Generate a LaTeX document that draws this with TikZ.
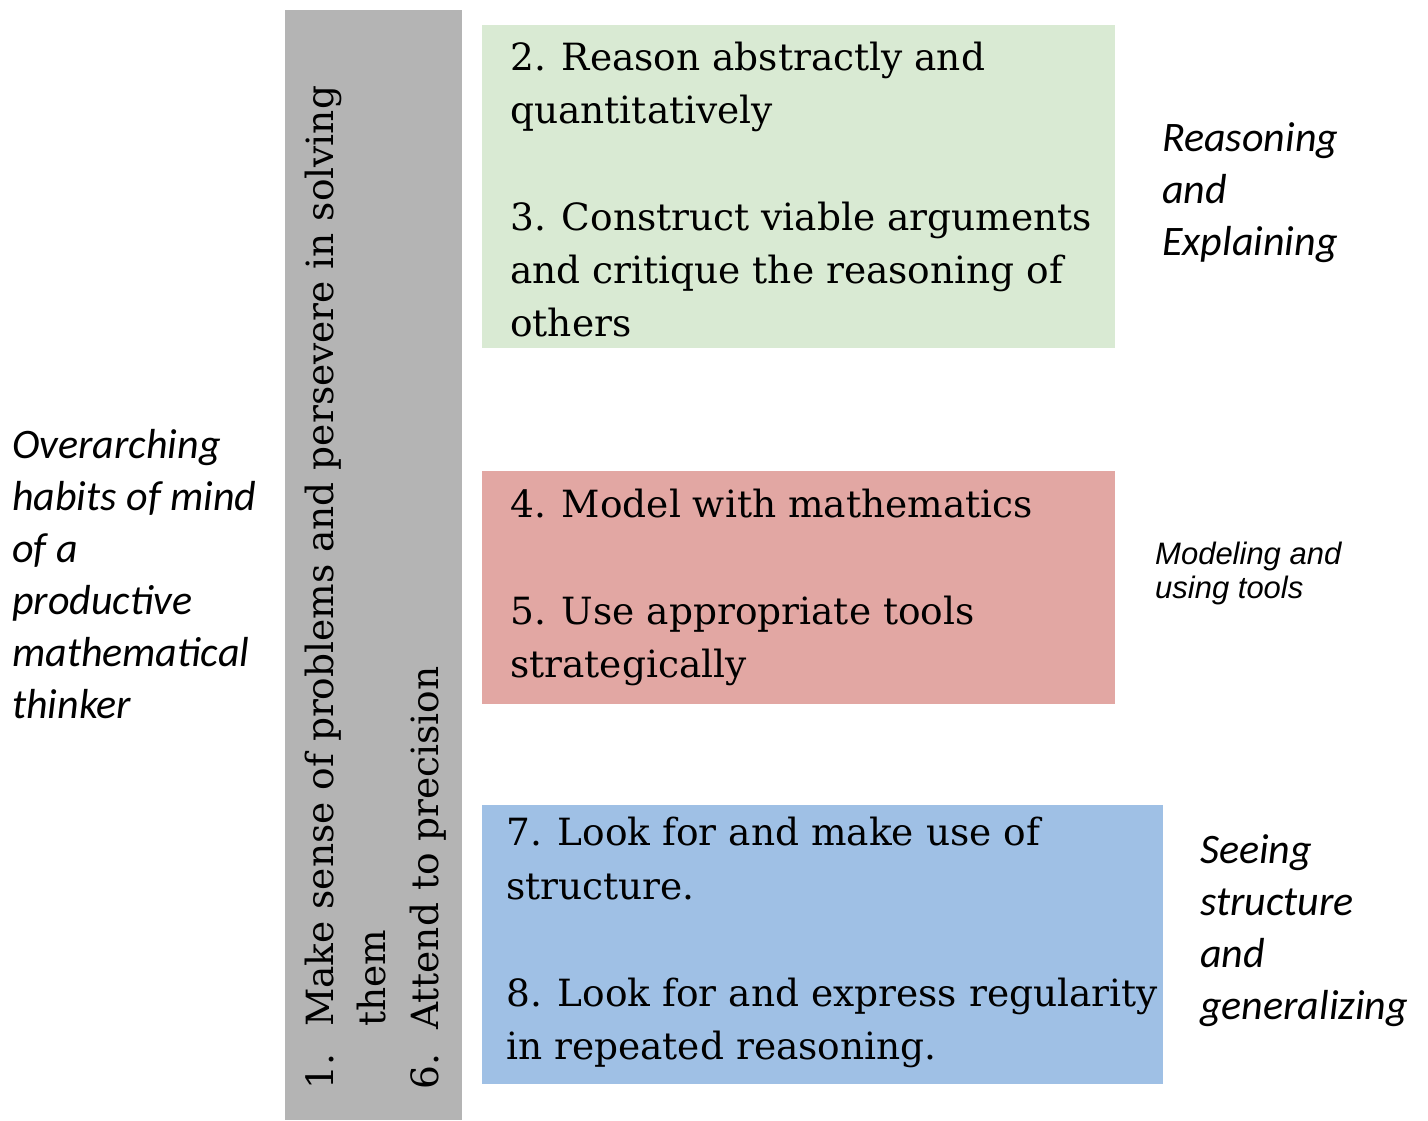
\documentclass[tikz,border=0pt]{standalone}
\usepackage{fontspec}
\setmainfont{DejaVu Serif}
\newfontfamily\calfont{Carlito}
\newfontfamily\arifont{Liberation Sans}
\definecolor{bargray}{HTML}{B4B4B4}
\definecolor{boxgreen}{HTML}{D9EAD3}
\definecolor{boxred}{HTML}{E2A7A3}
\definecolor{boxblue}{HTML}{9FC0E5}
\tikzset{
  boxtxt/.style={anchor=base west, inner sep=0pt, font=\fontsize{37.5pt}{53pt}\selectfont},
  bartxt/.style={boxtxt, rotate=90},
  cattxt/.style={anchor=base west, inner sep=0pt, font=\calfont\itshape\fontsize{42pt}{52pt}\selectfont},
  modtxt/.style={anchor=base west, inner sep=0pt, font=\arifont\itshape\fontsize{31pt}{34pt}\selectfont},
  panel/.style={draw=none, inner sep=0pt}
}
\begin{document}
\begin{tikzpicture}[x=1pt,y=1pt]
\useasboundingbox (0,0) rectangle (1428,-1120);
% gray bar and coloured panels
\fill[bargray] (285,-10) rectangle (462,-1120);
\fill[boxgreen] (482,-25) rectangle (1115,-348);
\fill[boxred] (482,-471) rectangle (1115,-704);
\fill[boxblue] (482,-805) rectangle (1163,-1084);
% rotated text in the gray bar
\node[bartxt] (n1) at (333,-1090) {1.};
\node[bartxt] (m1) at (333,-1027) {Make sense of problems and persevere in solving};
\node[bartxt] (m1b) at (385,-1027) {them};
\node[bartxt] (n6) at (438,-1090) {6.};
\node[bartxt] (m6) at (438,-1030) {Attend to precision};
% green panel
\node[boxtxt] (g1) at (510,-70) {2. Reason abstractly and};
\node[boxtxt] (g2) at (510,-123) {quantitatively};
\node[boxtxt] (g3) at (510,-230) {3. Construct viable arguments};
\node[boxtxt] (g4) at (510,-283) {and critique the reasoning of};
\node[boxtxt] (g5) at (510,-336) {others};
% red panel
\node[boxtxt] (r1) at (510,-517) {4. Model with mathematics};
\node[boxtxt] (r2) at (510,-624) {5. Use appropriate tools};
\node[boxtxt] (r3) at (510,-677) {strategically};
% blue panel
\node[boxtxt] (b1) at (506,-845) {7. Look for and make use of};
\node[boxtxt] (b2) at (506,-899) {structure.};
\node[boxtxt] (b3) at (506,-1006) {8. Look for and express regularity};
\node[boxtxt] (b4) at (506,-1059) {in repeated reasoning.};
% left label
\node[cattxt] (o1) at (12,-458) {Overarching};
\node[cattxt] (o2) at (12,-510) {habits of mind};
\node[cattxt] (o3) at (12,-562) {of a};
\node[cattxt] (o4) at (12,-614) {productive};
\node[cattxt] (o5) at (12,-666) {mathematical};
\node[cattxt] (o6) at (12,-718) {thinker};
% right labels
\node[cattxt] (e1) at (1162,-151) {Reasoning};
\node[cattxt] (e2) at (1162,-203) {and};
\node[cattxt] (e3) at (1162,-255) {Explaining};
\node[modtxt] (t1) at (1155,-564) {Modeling and};
\node[modtxt] (t2) at (1155,-598) {using tools};
\node[cattxt] (s1) at (1200,-863) {Seeing};
\node[cattxt] (s2) at (1200,-915) {structure};
\node[cattxt] (s3) at (1200,-967) {and};
\node[cattxt] (s4) at (1200,-1019) {generalizing};
\end{tikzpicture}
\end{document}
